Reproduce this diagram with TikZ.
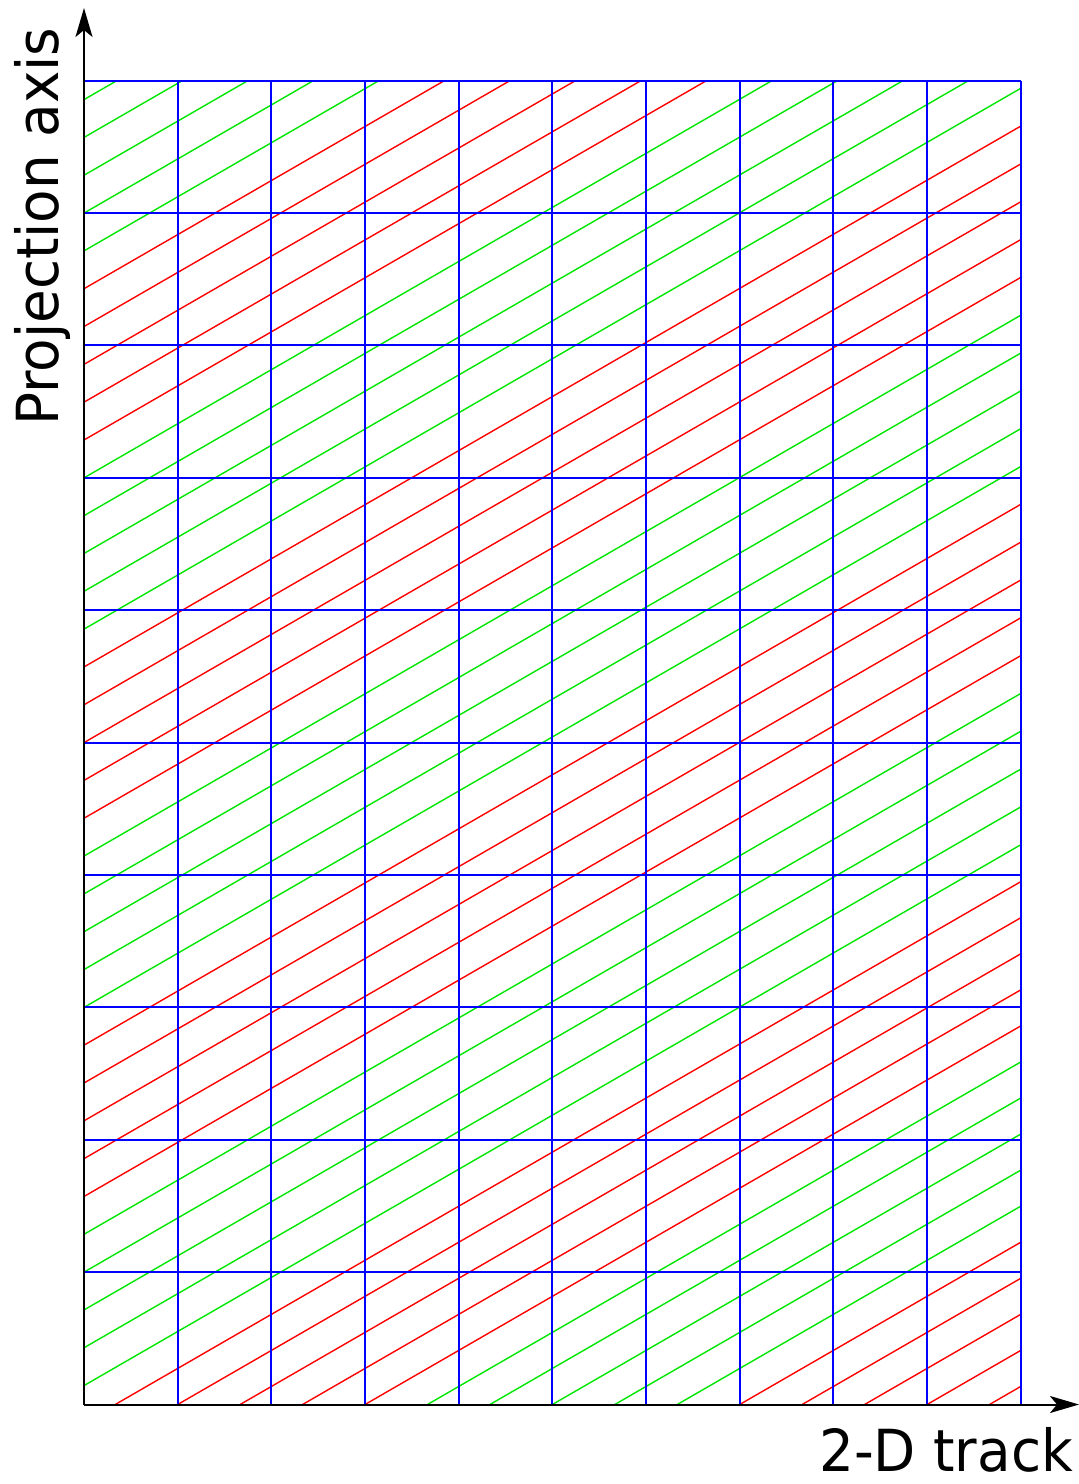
\documentclass[tikz,border=0pt]{standalone}
\usepackage{fontspec}
\usetikzlibrary{arrows.meta}
\newfontfamily\labfont[FakeStretch=0.945]{DejaVu Sans}
\definecolor{gridblue}{RGB}{0,0,255}
\definecolor{linegreen}{RGB}{0,230,0}
\definecolor{linered}{RGB}{255,0,0}
\tikzset{
  gridline/.style={draw=gridblue, line width=2pt},
  gline/.style={draw=linegreen, line width=1.4pt},
  rline/.style={draw=linered, line width=1.4pt},
  axisline/.style={draw=black, line width=2pt, -{Stealth[length=29pt,width=17pt,inset=7pt]}},
  lab/.style={inner sep=0pt, font=\labfont\fontsize{58}{70}\selectfont}
}
\begin{document}
\begin{tikzpicture}[x=1pt,y=-1pt]
\useasboundingbox (0,0) rectangle (1079,1484);
\def\xl{84}\def\yb{1404.5}\def\xr{1020.7}\def\yt{80.7}
\def\cw{93.67}\def\rh{132.38}\def\dd{37.823}
\coordinate (O) at (\xl,\yb);
\coordinate (TR) at (\xr,\yt);
\coordinate (Xend) at (1079,\yb);
\coordinate (Yend) at (\xl,8);
% diagonal lines
\begin{scope}
\clip (O) rectangle (TR);
\foreach \g/\st in {0/gline,5/rline,10/gline,15/rline,20/gline,25/rline,30/gline}{
  \foreach \i in {0,...,4}{
    \pgfmathsetmacro\ys{\yb-(\g+\i+0.5)*\dd}
    \draw[\st] (\xl,\ys) -- ++(1200,-692.82);
  }
}
\foreach \g/\st in {0/rline,5/gline,10/rline}{
  \foreach \i in {0,...,4}{
    \pgfmathsetmacro\xs{\xl+\cw*(1+2*(\g+\i))/3}
    \draw[\st] (\xs,\yb) -- ++(1200,-692.82);
  }
}
\end{scope}
% blue grid
\foreach \i in {0,...,10}{
  \pgfmathsetmacro\xx{round(\xl+\i*\cw)}
  \draw[gridline] (\xx,\yb) -- (\xx,\yt);
  \pgfmathsetmacro\yy{round(\yt+\i*\rh)}
  \draw[gridline] (\xl,\yy) -- (\xr,\yy);
}
% axes
\draw[axisline] (O) -- (Xend);
\draw[axisline] (O) -- (Yend);
% labels
\node[lab, rotate=90, anchor=base west] (ylab) at (58,426) {Projection axis};
\node[lab, anchor=base west] (xlab) at (819,1471) {2-D track};
\end{tikzpicture}
\end{document}
